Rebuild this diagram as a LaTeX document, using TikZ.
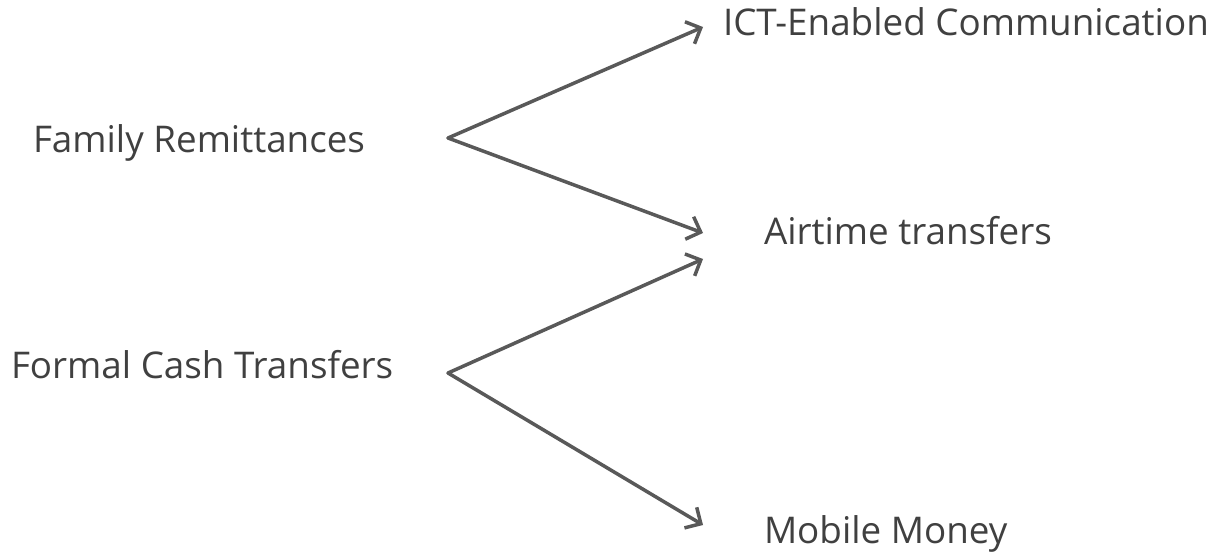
\documentclass[tikz,border=0pt]{standalone}
\usepackage{fontspec}
\setmainfont{Open Sans}
\usetikzlibrary{arrows.meta}
\definecolor{txtgray}{HTML}{404040}
\definecolor{linegray}{HTML}{595959}
\begin{document}
\begin{tikzpicture}[x=1pt,y=-1pt,
  label/.style={anchor=base west,inner sep=0pt,outer sep=0pt,text=txtgray,
    font=\fontsize{36.8}{44}\selectfont},
  link/.style={draw=linegray,line width=3.5pt,line cap=round,line join=round,
    -{Straight Barb[length=12pt,width=24pt,line width=3.5pt]}}]
\useasboundingbox (0,0) rectangle (1217,551);
% source and target labels
\node[label] (fam) at (33,152) {Family Remittances};
\node[label] (fct) at (11,378) {Formal Cash Transfers};
\node[label] (ict) at (723,36) {ICT-Enabled Communication};
\node[label] (air) at (764,244) {Airtime transfers};
\node[label] (mob) at (764,543) {Mobile Money};
% branching points and arrow ends
\coordinate (v1) at (448,138);
\coordinate (v2) at (448,373);
\coordinate (t1) at (703,27);
\coordinate (t2) at (703,233);
\coordinate (t3) at (703,259);
\coordinate (t4) at (703,525);
\draw[link] (v1) -- (t1);
\draw[link] (v1) -- (t2);
\draw[link] (v2) -- (t3);
\draw[link] (v2) -- (t4);
\end{tikzpicture}
\end{document}
